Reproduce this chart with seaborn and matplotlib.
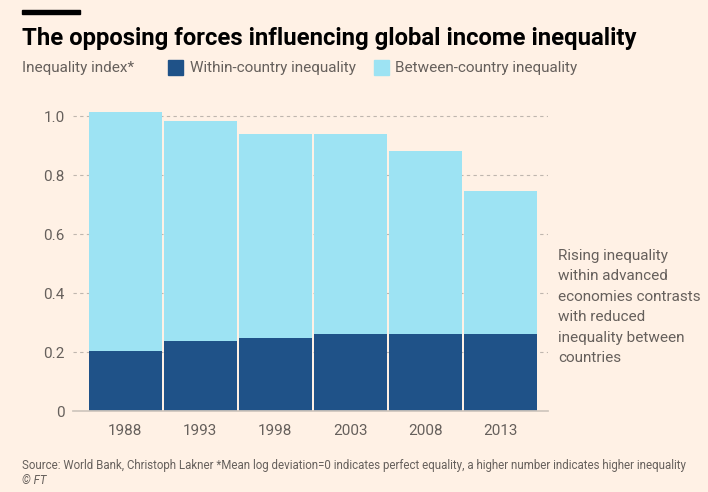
import pandas as pd
import matplotlib.pyplot as plt
import matplotlib.patches as mpatches
import seaborn as sns

# Data
years = ["1988", "1993", "1998", "2003", "2008", "2013"]
within = [0.203, 0.237, 0.249, 0.261, 0.262, 0.261]
total = [1.015, 0.982, 0.940, 0.939, 0.880, 0.746]
yticks = [0, 0.2, 0.4, 0.6, 0.8, 1.0]
ytick_labels = ["0", "0.2", "0.4", "0.6", "0.8", "1.0"]

df = pd.DataFrame({"year": years, "within": within, "total": total})

BG = "#FFF1E5"
DARK = "#1F5288"
LIGHT = "#9DE3F3"
GREY = "#66605C"

sns.set_theme(style="white")
plt.rcParams["font.family"] = ["Roboto", "DejaVu Sans"]

fig = plt.figure(figsize=(7.08, 4.92), dpi=100, facecolor=BG)
ax = fig.add_axes([0.103, 0.1646, 0.671, 0.6416])
ax.set_facecolor(BG)

# light bars = total height (between + within), dark bars drawn over them
sns.barplot(data=df, x="year", y="total", color=LIGHT, saturation=1,
            width=0.967, edgecolor="none", ax=ax)
sns.barplot(data=df, x="year", y="within", color=DARK, saturation=1,
            width=0.967, edgecolor="none", ax=ax)

ax.set_xlim(-0.697, 5.63)
ax.set_ylim(0, 1.07)
ax.set_yticks(yticks)
ax.set_yticklabels(ytick_labels)
ax.set_xlabel("")
ax.set_ylabel("")
ax.grid(axis="y", color="#BFB6AE", linestyle=(0, (3, 3)), linewidth=0.8)
ax.set_axisbelow(True)
for s in ["top", "right", "left"]:
    ax.spines[s].set_visible(False)
ax.spines["bottom"].set_color("#CFC6BD")
ax.tick_params(axis="both", length=0, labelsize=11, colors=GREY)
ax.tick_params(axis="x", pad=9)
ax.tick_params(axis="y", pad=6)

# header
fig.add_artist(mpatches.Rectangle((22 / 708, 1 - 14 / 492), 58 / 708, 4 / 492,
                                  transform=fig.transFigure, color="black"))
fig.text(22 / 708, 1 - 38 / 492, "The opposing forces influencing global income inequality",
         fontsize=17.2, fontweight="bold", color="black", va="center")
fig.text(22 / 708, 1 - 68 / 492, "Inequality index*", fontsize=11, color=GREY, va="center")

# legend
fig.add_artist(mpatches.Rectangle((168 / 708, 1 - 75 / 492), 15 / 708, 15 / 492,
                                  transform=fig.transFigure, color=DARK))
fig.text(190 / 708, 1 - 68 / 492, "Within-country inequality", fontsize=11, color=GREY, va="center")
fig.add_artist(mpatches.Rectangle((374 / 708, 1 - 75 / 492), 15 / 708, 15 / 492,
                                  transform=fig.transFigure, color=LIGHT))
fig.text(395 / 708, 1 - 68 / 492, "Between-country inequality", fontsize=11, color=GREY, va="center")

# annotation
fig.text(558 / 708, 1 - 249 / 492,
         "Rising inequality\nwithin advanced\neconomies contrasts\nwith reduced\ninequality between\ncountries",
         fontsize=11, color=GREY, va="top", linespacing=1.58)

# footer
fig.text(22 / 708, 1 - 465 / 492,
         "Source: World Bank, Christoph Lakner *Mean log deviation=0 indicates perfect equality, "
         "a higher number indicates higher inequality",
         fontsize=8.3, color=GREY, va="center")
fig.text(22 / 708, 1 - 481 / 492, "© FT", fontsize=8.3, color=GREY, va="center", style="italic")

fig.savefig("out.png", dpi=100, facecolor=BG)
